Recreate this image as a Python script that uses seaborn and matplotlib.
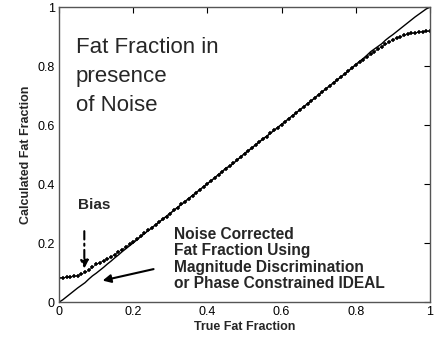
import numpy as np
import pandas as pd
import seaborn as sns
import matplotlib
matplotlib.use("Agg")
import matplotlib.pyplot as plt

# true fat fraction grid (0.00 .. 1.00, step 0.01)
true_ff = np.round(np.linspace(0, 1, 101), 2)

# magnitude fitting in presence of noise (biased at low fat fraction)
noisy_ff = [
    0.083, 0.083, 0.084, 0.085, 0.087, 0.090, 0.095, 0.101, 0.108, 0.118,
    0.128, 0.134, 0.140, 0.146, 0.153, 0.161, 0.170, 0.178, 0.187, 0.196,
    0.205, 0.214, 0.224, 0.233, 0.243, 0.252, 0.262, 0.271, 0.281, 0.290,
    0.300, 0.311, 0.320, 0.331, 0.340, 0.351, 0.361, 0.371, 0.381, 0.391,
    0.401, 0.411, 0.421, 0.432, 0.441, 0.453, 0.460, 0.471, 0.482, 0.491,
    0.503, 0.512, 0.521, 0.533, 0.542, 0.552, 0.561, 0.572, 0.582, 0.591,
    0.602, 0.612, 0.622, 0.632, 0.642, 0.652, 0.662, 0.672, 0.682, 0.692,
    0.703, 0.713, 0.723, 0.733, 0.743, 0.753, 0.763, 0.773, 0.783, 0.793,
    0.803, 0.813, 0.822, 0.831, 0.840, 0.849, 0.858, 0.866, 0.874, 0.882,
    0.889, 0.895, 0.900, 0.904, 0.908, 0.911, 0.913, 0.915, 0.917, 0.918,
    0.919,
]

# noise corrected estimate (close to identity)
corrected_ff = [
    0.000, 0.008, 0.018, 0.028, 0.038, 0.048, 0.057, 0.066, 0.078, 0.089,
    0.098, 0.108, 0.118, 0.129, 0.139, 0.150, 0.160, 0.171, 0.181, 0.191,
    0.201, 0.211, 0.222, 0.232, 0.242, 0.252, 0.262, 0.272, 0.282, 0.292,
    0.302, 0.312, 0.322, 0.332, 0.342, 0.352, 0.362, 0.372, 0.382, 0.392,
    0.402, 0.412, 0.422, 0.433, 0.443, 0.455, 0.461, 0.470, 0.482, 0.493,
    0.504, 0.514, 0.523, 0.534, 0.544, 0.554, 0.563, 0.573, 0.583, 0.593,
    0.603, 0.613, 0.623, 0.633, 0.643, 0.653, 0.663, 0.673, 0.683, 0.693,
    0.704, 0.714, 0.724, 0.734, 0.744, 0.754, 0.764, 0.774, 0.784, 0.795,
    0.806, 0.816, 0.826, 0.837, 0.849, 0.858, 0.867, 0.876, 0.888, 0.898,
    0.907, 0.917, 0.927, 0.937, 0.947, 0.957, 0.967, 0.976, 0.985, 0.994,
    1.000,
]

df = pd.DataFrame({"true": true_ff, "noisy": noisy_ff, "corrected": corrected_ff})

sns.set_style("white")
plt.rcParams["font.family"] = ["Liberation Sans", "DejaVu Sans"]

fig = plt.figure(figsize=(4.41, 3.41), dpi=100)
ax = fig.add_axes([0.134, 0.114, 0.841, 0.865])

sns.lineplot(data=df, x="true", y="corrected", ax=ax, color="black",
             linewidth=1.0, estimator=None)
sns.lineplot(data=df, x="true", y="noisy", ax=ax, color="black",
             linewidth=0.6, marker="+", markersize=3.5, markeredgewidth=1.1,
             markeredgecolor="black", estimator=None)

ax.set_xlim(0, 1)
ax.set_ylim(0, 1)
ax.set_xticks([0, 0.2, 0.4, 0.6, 0.8, 1])
ax.set_yticks([0, 0.2, 0.4, 0.6, 0.8, 1])
ax.set_xticklabels(["0", "0.2", "0.4", "0.6", "0.8", "1"])
ax.set_yticklabels(["0", "0.2", "0.4", "0.6", "0.8", "1"])
ax.tick_params(direction="in", length=4, width=0.8, top=True, right=True,
               labelsize=9, colors="black", pad=3)
for s in ax.spines.values():
    s.set_color("#555555")
    s.set_linewidth(1.0)

ax.set_xlabel("True Fat Fraction", fontsize=9, fontweight="bold", labelpad=2)
ax.set_ylabel("Calculated Fat Fraction", fontsize=9, fontweight="bold", labelpad=4)

# annotations
ax.text(0.045, 0.9, "Fat Fraction in\npresence\nof Noise", fontsize=16,
        ha="left", va="top", linespacing=1.5)
ax.text(0.31, 0.255, "Noise Corrected\nFat Fraction Using\nMagnitude Discrimination\nor Phase Constrained IDEAL",
        fontsize=11.2, fontweight="bold", ha="left", va="top", linespacing=1.12)
ax.text(0.052, 0.33, "Bias", fontsize=11, fontweight="bold", ha="left", va="center")

ax.annotate("", xy=(0.068, 0.104), xytext=(0.068, 0.25),
            arrowprops=dict(arrowstyle="-|>", color="black", lw=1.5,
                            linestyle=(0, (4, 2, 1, 2)), mutation_scale=12))
ax.annotate("", xy=(0.11, 0.071), xytext=(0.262, 0.114),
            arrowprops=dict(arrowstyle="-|>", color="black", lw=1.5,
                            mutation_scale=12))

fig.savefig("out.png", dpi=100)
